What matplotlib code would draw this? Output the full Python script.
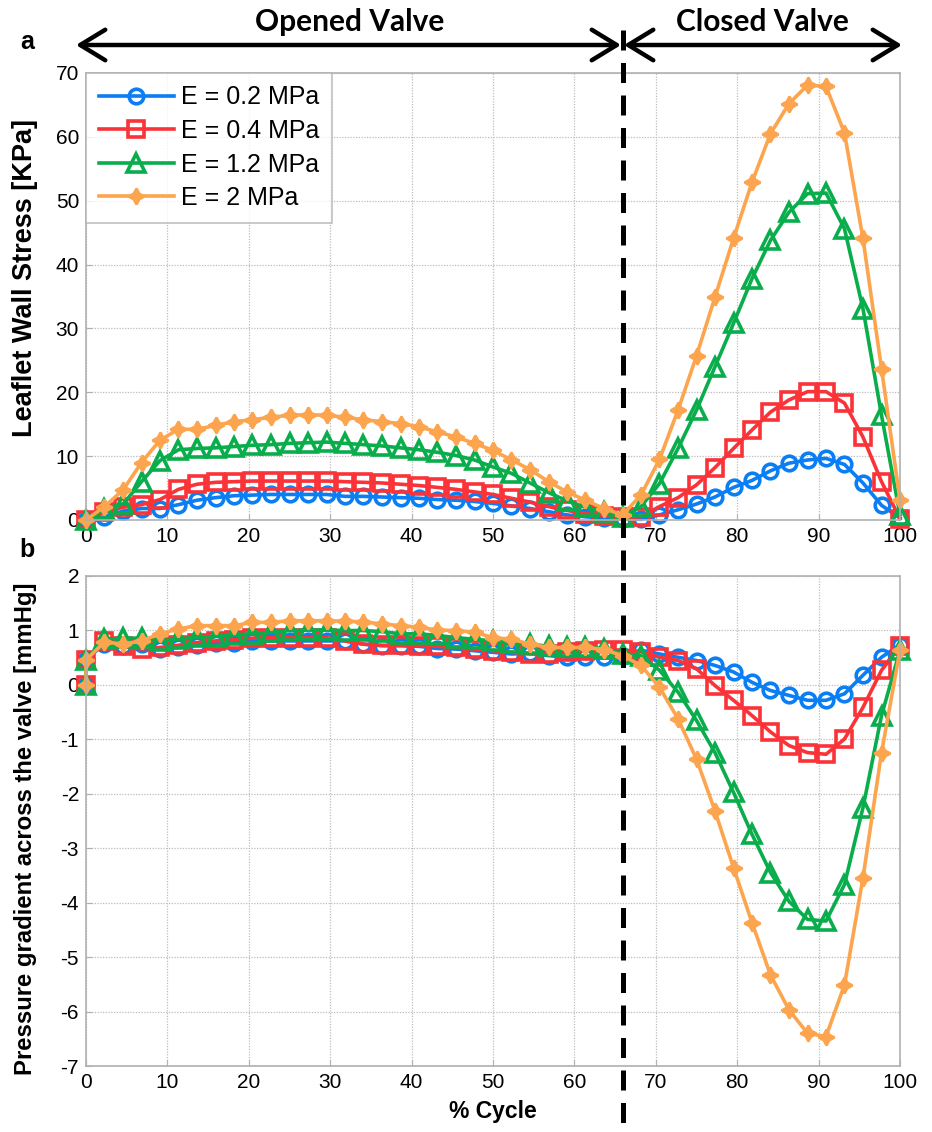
import numpy as np
import matplotlib
matplotlib.use("Agg")
import matplotlib.pyplot as plt
from matplotlib.lines import Line2D
from matplotlib.patches import FancyArrowPatch

# ---------------- data ----------------
cycle = [0.0, 2.27, 4.55, 6.82, 9.09, 11.36, 13.64, 15.91, 18.18, 20.45,
         22.73, 25.0, 27.27, 29.55, 31.82, 34.09, 36.36, 38.64, 40.91, 43.18,
         45.45, 47.73, 50.0, 52.27, 54.55, 56.82, 59.09, 61.36, 63.64, 65.91,
         68.18, 70.45, 72.73, 75.0, 77.27, 79.55, 81.82, 84.09, 86.36, 88.64,
         90.91, 93.18, 95.45, 97.73, 100.0]

labels = ["E = 0.2 MPa", "E = 0.4 MPa", "E = 1.2 MPa", "E = 2 MPa"]

stress_02 = [0, 0.5, 1.4, 1.8, 1.8, 2.4, 3.1, 3.5, 3.8, 3.9, 4.0, 4.0, 4.0, 4.0,
             3.7, 3.7, 3.6, 3.5, 3.4, 3.2, 3.1, 2.9, 2.6, 2.2, 1.8, 1.3, 0.8, 0.5, 0.3, 0.2,
             0.1, 0.8, 1.6, 2.5, 3.6, 5.1, 6.2, 7.7, 8.9, 9.4, 9.65, 8.7, 5.8, 2.3, 0.3]
stress_04 = [0, 1.2, 2.0, 2.4, 3.2, 4.8, 5.6, 5.9, 6.0, 6.1, 6.1, 6.1, 6.1, 6.1,
             6.0, 5.9, 5.8, 5.6, 5.4, 5.1, 4.8, 4.4, 4.0, 3.4, 2.8, 2.1, 1.5, 1.0, 0.7, 0.5,
             0.5, 2.1, 3.5, 5.5, 8.2, 11.2, 14.1, 16.9, 18.8, 20.1, 20.1, 18.3, 13.0, 6.0, 0.2]
stress_12 = [0, 1.8, 2.5, 6.0, 9.3, 11.0, 11.2, 11.3, 11.5, 11.7, 11.8, 12.0, 12.1, 12.2,
             12.0, 11.8, 11.6, 11.3, 11.0, 10.6, 10.1, 9.4, 8.3, 7.3, 5.8, 4.3, 3.0, 2.0, 1.3, 0.5,
             2.1, 5.7, 11.2, 17.2, 24.0, 30.8, 37.8, 43.8, 48.2, 51.1, 51.2, 45.6, 33.1, 16.4, 0.8]
stress_20 = [0, 2.1, 4.7, 9.0, 12.5, 14.2, 14.2, 14.8, 15.4, 15.7, 16.1, 16.4, 16.5, 16.4,
             16.1, 15.7, 15.4, 15.1, 14.6, 13.8, 13.0, 12.0, 10.9, 9.4, 7.9, 6.0, 4.4, 3.1, 1.8, 0.8,
             3.9, 9.5, 17.2, 25.7, 34.9, 44.1, 52.9, 60.5, 65.2, 68.1, 67.9, 60.6, 44.1, 23.7, 3.1]

# pressure gradient: first sample (0 %) is recorded twice
cycle_p = [0.0] + cycle
press_02 = [0, 0.45, 0.75, 0.7, 0.75, 0.65, 0.68, 0.72, 0.76, 0.77, 0.8, 0.8, 0.8, 0.8, 0.8,
            0.8, 0.74, 0.71, 0.71, 0.7, 0.66, 0.65, 0.62, 0.59, 0.56, 0.57, 0.53, 0.5, 0.5, 0.5, 0.53,
            0.63, 0.56, 0.5, 0.44, 0.35, 0.23, 0.04, -0.11, -0.2, -0.29, -0.29, -0.17, 0.17, 0.5, 0.73]
press_04 = [0, 0.45, 0.8, 0.7, 0.65, 0.68, 0.72, 0.77, 0.8, 0.82, 0.85, 0.86, 0.86, 0.86, 0.86,
            0.8, 0.74, 0.72, 0.72, 0.71, 0.7, 0.68, 0.65, 0.62, 0.59, 0.56, 0.56, 0.59, 0.62, 0.64, 0.63,
            0.6, 0.5, 0.44, 0.29, -0.02, -0.29, -0.57, -0.87, -1.12, -1.25, -1.28, -1.0, -0.42, 0.26, 0.71]
press_12 = [0, 0.45, 0.83, 0.85, 0.85, 0.8, 0.83, 0.87, 0.88, 0.91, 0.93, 0.96, 0.99, 1.0, 1.0,
            0.99, 0.99, 0.97, 0.93, 0.93, 0.9, 0.86, 0.83, 0.8, 0.77, 0.74, 0.7, 0.68, 0.68, 0.66, 0.56,
            0.53, 0.26, -0.14, -0.66, -1.25, -1.98, -2.75, -3.45, -3.98, -4.31, -4.34, -3.67, -2.26, -0.57, 0.63]
press_20 = [0, 0.45, 0.78, 0.74, 0.8, 0.93, 1.02, 1.08, 1.08, 1.08, 1.14, 1.14, 1.17, 1.17, 1.17,
            1.16, 1.15, 1.11, 1.08, 1.05, 1.0, 0.99, 0.96, 0.86, 0.83, 0.74, 0.68, 0.68, 0.68, 0.64, 0.53,
            0.35, -0.05, -0.63, -1.37, -2.32, -3.36, -4.37, -5.33, -5.97, -6.4, -6.46, -5.51, -3.55, -1.25, 0.63]

valve_switch = 65.91

# ---------------- style ----------------
colors = ["#0a7ef2", "#fa3338", "#0aad4b", "#fca54e"]
markers = ["o", "s", "^", (4, 1, 0)]
msizes = [10.5, 11.5, 13, 11.5]

plt.rcParams["font.family"] = ["Liberation Sans", "DejaVu Sans"]
plt.rcParams["axes.unicode_minus"] = False

fig = plt.figure(figsize=(9.32, 11.32), dpi=100)
W, H = 932, 1132
L, R = 86 / W, 900 / W
ax1 = fig.add_axes([L, 1 - 520 / H, R - L, (520 - 73) / H])
ax2 = fig.add_axes([L, 1 - 1066 / H, R - L, (1066 - 575.5) / H])


def style_axes(ax):
    ax.grid(True, linestyle=(0, (1, 1.2)), color="#bdbdbd", linewidth=0.9)
    ax.set_axisbelow(True)
    for s in ax.spines.values():
        s.set_color("#b0b0b0")
        s.set_linewidth(1.2)
    ax.tick_params(direction="in", length=4, color="#b0b0b0", labelsize=15,
                   pad=5)
    ax.set_xlim(0, 100)
    ax.set_xticks(range(0, 101, 10))


def draw(ax, xs, vals, c, m, ms, lab=None):
    if isinstance(m, tuple):
        ax.plot(xs, vals, color=c, lw=2.6, marker=m, ms=ms, mfc=c, mec=c, mew=1.8,
                label=lab, clip_on=False)
    else:
        ax.plot(xs, vals, color=c, lw=2.6, marker=m, ms=ms, mfc="none", mec=c, mew=2.6,
                label=lab, clip_on=False)


for vals, c, m, ms, lab in zip([stress_02, stress_04, stress_12, stress_20],
                               colors, markers, msizes, labels):
    draw(ax1, cycle, vals, c, m, ms, lab)

for vals, c, m, ms in zip([press_02, press_04, press_12, press_20], colors, markers, msizes):
    draw(ax2, cycle_p, vals, c, m, ms)

style_axes(ax1)
style_axes(ax2)
ax1.set_ylim(0, 70)
ax1.set_yticks(range(0, 71, 10))
ax2.set_ylim(-7, 2)
ax2.set_yticks(range(-7, 3, 1))

ax1.set_ylabel("Leaflet Wall Stress [KPa]", fontsize=19.5, fontweight="bold")
ax1.yaxis.set_label_coords((38 - 86) / 814, (520 - 278) / 447)
ax2.set_ylabel("Pressure gradient across the valve [mmHg]", fontsize=17.2,
               fontweight="bold")
ax2.yaxis.set_label_coords((37 - 86) / 814, (1066 - 829) / 490.5)
ax2.set_xlabel("% Cycle", fontsize=16.5, fontweight="bold", labelpad=6)

leg = ax1.legend(loc="upper left", fontsize=18, frameon=True, fancybox=False,
                 borderaxespad=0, handlelength=3.0, handletextpad=0.3,
                 borderpad=0.5, labelspacing=0.38, markerscale=1.0)
leg.get_frame().set_edgecolor("#b0b0b0")
leg.get_frame().set_linewidth(1.2)

# vertical dashed line spanning both panels (in data x of the axes)
x_fig = fig.transFigure.inverted().transform(ax1.transData.transform((valve_switch, 0)))[0]
fig.add_artist(Line2D([x_fig, x_fig], [1 - 30 / H, 0.0], transform=fig.transFigure,
                      color="black", lw=3.6, linestyle=(0, (4.0, 2.5))))

# arrows on top
y_arr = 1 - 45 / H
x_left = 76 / W
x_right = 902 / W
for xa, xb in [(x_left, x_fig - 1.5 / W), (x_fig + 1.5 / W, x_right)]:
    fig.add_artist(FancyArrowPatch(
        (xa, y_arr), (xb, y_arr), transform=fig.transFigure,
        arrowstyle="<->,head_length=0.9,head_width=0.55", lw=3.2, color="black",
        mutation_scale=20, shrinkA=0, shrinkB=0))

fig.text((x_left + x_fig) / 2, 1 - 22 / H, "Opened Valve", ha="center", va="center",
         fontsize=21.5, fontweight="bold", family=["Lato", "DejaVu Sans"])
fig.text((x_fig + x_right) / 2, 1 - 22 / H, "Closed Valve", ha="center", va="center",
         fontsize=21.5, fontweight="bold", family=["Lato", "DejaVu Sans"])

fig.text(27 / W, 1 - 42 / H, "a", ha="center", va="center", fontsize=18, fontweight="bold")
fig.text(27 / W, 1 - 550 / H, "b", ha="center", va="center", fontsize=18, fontweight="bold")

fig.savefig("out.png", dpi=100)
